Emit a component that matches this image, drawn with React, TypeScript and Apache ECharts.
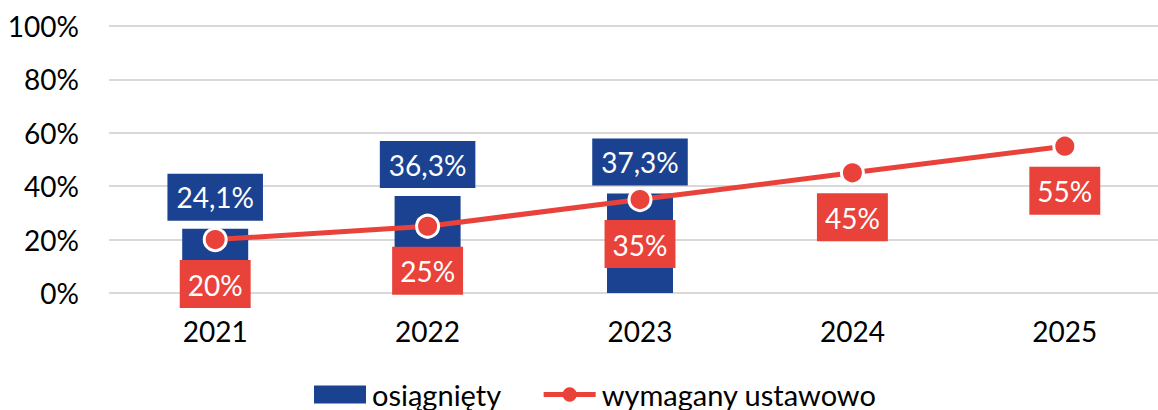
import React, { useEffect, useRef } from "react";
import * as echarts from "echarts";

const categories = ["2021", "2022", "2023", "2024", "2025"];
const achieved = [24.1, 36.3, 37.3, null, null];
const required = [20, 25, 35, 45, 55];
const seriesNames = ["osiągnięty", "wymagany ustawowo"];

const BLUE = "#1B4290";
const RED = "#E8423A";
const FONT = "Lato";

export default function App() {
  const ref = useRef<HTMLDivElement>(null);
  useEffect(() => {
    document.body.style.margin = "0";
    document.body.style.overflow = "hidden";
    const chart = echarts.init(ref.current!, null, { renderer: "svg" });
    chart.setOption({
      animation: false,
      textStyle: { fontFamily: FONT },
      grid: { left: 109, right: 0, top: 26, bottom: 117, containLabel: false },
      legend: {
        left: 314,
        top: 380,
        padding: 0,
        itemWidth: 52,
        itemHeight: 18,
        itemGap: 40,
        textStyle: { fontFamily: FONT, fontSize: 29, color: "#000", padding: [0, 0, 0, 1] },
        data: [
          { name: seriesNames[0], icon: "rect" },
          {
            name: seriesNames[1],
            lineStyle: { width: 5, color: RED },
            itemStyle: { color: RED, borderWidth: 0 },
          },
        ],
      },
      xAxis: {
        type: "category",
        data: categories,
        axisLine: { show: false },
        axisTick: { show: false },
        axisLabel: { fontFamily: FONT, fontSize: 28, color: "#000", margin: 24 },
      },
      yAxis: {
        type: "value",
        min: 0,
        max: 100,
        interval: 20,
        axisLabel: {
          formatter: "{value}%",
          fontFamily: FONT,
          fontSize: 28,
          color: "#000",
          margin: 30,
        },
        splitLine: { lineStyle: { color: "#D9D9D9", width: 2 } },
      },
      series: [
        {
          name: seriesNames[0],
          type: "bar",
          data: achieved,
          barWidth: 66,
          itemStyle: { color: BLUE },
          label: {
            show: true,
            position: "top",
            distance: 8,
            color: "#fff",
            fontFamily: FONT,
            fontSize: 28,
            lineHeight: 29,
            backgroundColor: BLUE,
            padding: [9, 9, 9, 9],
            formatter: (p: any) => p.value.toFixed(1).replace(".", ",") + "%",
          },
        },
        {
          name: seriesNames[1],
          type: "line",
          data: required,
          symbol: "circle",
          symbolSize: 22,
          lineStyle: { color: RED, width: 5 },
          itemStyle: { color: RED, borderColor: "#fff", borderWidth: 3 },
          z: 5,
          label: {
            show: true,
            position: "bottom",
            distance: 8,
            color: "#fff",
            fontFamily: FONT,
            fontSize: 28,
            lineHeight: 29,
            backgroundColor: RED,
            padding: [10, 8, 9, 8],
            formatter: (p: any) => p.value + "%",
          },
        },
      ],
    });
    return () => chart.dispose();
  }, []);
  return <div ref={ref} style={{ width: 1171, height: 410 }} />;
}
